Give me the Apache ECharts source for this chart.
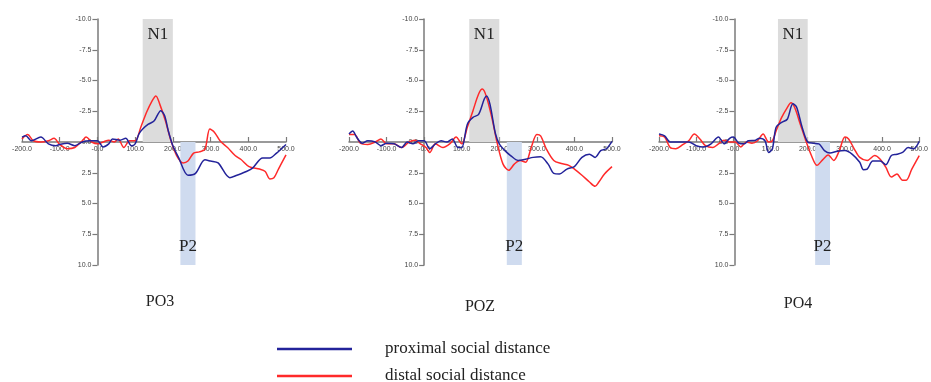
<!DOCTYPE html>
<html>
<head>
<meta charset="utf-8">
<script src="https://cdn.jsdelivr.net/npm/echarts@6/dist/echarts.min.js"></script>
<style>
  html, body { margin: 0; padding: 0; background: #fff; }
  #main { width: 931px; height: 382px; }
</style>
</head>
<body>
<div id="main"></div>
<script>
(function(){
var panelNames = ['PO3', 'POZ', 'PO4'];
var seriesNames = ['proximal social distance', 'distal social distance'];
var xTicks = [-200, -100, 0, 100, 200, 300, 400, 500];
var yTicks = [-10, -7.5, -5, -2.5, 0, 2.5, 5, 7.5, 10];
var n1Window = [120, 200];
var p2Window = [220, 260];

// PO3
var po3ProxT = [-200,-190,-175,-150,-130,-110,-100,-80,-60,-40,-20,0,15,30,40,60,75,90,100,110,120,135,150,168,178,188,200,215,240,260,285,300,320,351,370,395,412,438,457,475,500];
var po3ProxV = [-0.4,-0.5,-0.1,-0.4,0.15,0.3,0.2,0.1,0.3,0,-0.1,-0.1,0.4,0.15,-0.25,-0.15,-0.3,0.3,0.15,-0.65,-1.05,-1.45,-1.7,-2.55,-2.15,-0.9,0.3,1.25,2.7,2.55,1.45,1.55,1.7,2.9,2.7,2.4,2.1,1.3,1.3,0.9,0.2];
var po3DistT = [-200,-185,-170,-150,-130,-115,-100,-80,-60,-40,-30,-15,0,15,30,45,55,70,85,100,115,130,145,155,165,180,195,210,227,240,255,270,285,298,310,325,345,365,380,402,430,445,457,468,480,500];
var po3DistV = [-0.25,-0.6,-0.1,0,-0.1,-0.3,0.2,0.55,0.45,-0.1,-0.4,0,0.15,0,-0.15,0,-0.25,0.45,-0.1,-0.1,-1.2,-2.4,-3.35,-3.75,-3.1,-1.75,-0.1,1.1,1.7,1.55,0.9,0.8,0.6,-1.05,-0.8,-0.1,0.45,1.1,1.4,2.0,2.2,2.4,3.0,2.9,2.2,1.05];

// POZ
var pozProxT = [-200,-190,-180,-165,-150,-130,-115,-100,-80,-60,-45,-30,-15,0,15,30,45,60,75,90,100,115,130,145,160,166,175,190,200,215,230,250,270,290,310,330,345,360,380,400,420,440,455,470,485,500];
var pozProxV = [-0.65,-0.9,-0.4,0.1,-0.1,0,0.3,0.1,0.15,0.45,0,0.15,-0.1,-0.1,0.55,0.15,-0.1,0,-0.25,0.45,0.45,-1.45,-2.0,-2.25,-3.5,-3.75,-3.1,-0.65,0.15,0.7,1.1,1.5,1.4,1.25,1.2,1.8,2.55,2.6,2.2,2.0,1.25,1.0,1.25,0.7,0.55,-0.05];
var pozDistT = [-200,-185,-170,-150,-130,-115,-100,-80,-60,-40,-25,-10,5,15,30,50,70,85,100,115,130,145,155,165,180,195,210,225,240,255,270,285,300,310,325,345,365,385,400,420,440,455,465,480,500];
var pozDistV = [-0.6,-0.6,0.1,0.2,0,-0.25,0.15,0.15,0.45,0,-0.15,0.15,0.45,0.85,0.15,0.45,0.1,-0.4,0.15,-1.2,-2.55,-3.9,-4.3,-3.75,-2.0,0.15,1.8,2.3,1.8,1.5,1.65,0.45,-0.6,-0.5,0.55,1.5,1.75,1.9,2.2,2.7,3.25,3.6,3.25,2.6,2.0];

// PO4
var po4ProxT = [-200,-185,-170,-150,-120,-100,-80,-60,-40,-25,-10,0,15,30,40,60,70,85,95,105,115,130,145,160,170,185,200,215,230,245,260,280,300,320,340,350,360,375,395,410,425,440,455,470,485,500];
var po4ProxV = [-0.65,-0.5,0,0,0,0.3,0.4,0.15,-0.4,0.15,-0.3,-0.4,0.1,0.15,-0.1,-0.15,-0.3,-0.1,0.85,0.55,-1.2,-1.6,-1.85,-3.1,-2.85,-1.2,0,0.1,0.15,0.7,0.9,0.75,0.7,1.0,1.65,2.25,2.2,1.55,1.55,1.85,1.1,1.0,0.85,0.45,0.55,-0.05];
var po4DistT = [-200,-185,-170,-155,-135,-120,-105,-90,-75,-55,-40,-25,-10,5,20,35,50,65,80,95,105,115,130,145,155,165,180,195,210,225,240,255,270,285,300,310,325,340,360,380,395,410,425,440,455,465,480,500];
var po4DistV = [-0.5,-0.4,0.45,0.55,0.2,-0.1,-0.65,-0.25,0.3,0.45,0.15,-0.15,0,0,0.4,0,0.1,-0.1,-0.65,0,-0.1,-0.9,-2.0,-2.8,-3.2,-2.8,-1.45,-0.1,1.1,1.9,1.45,1.05,1.5,0.7,-0.4,-0.25,0.55,1.25,1.5,1.1,1.4,2.05,2.85,2.6,3.1,3.1,2.2,1.1];

var panelData = [
  [[po3ProxT, po3ProxV], [po3DistT, po3DistV]],
  [[pozProxT, pozProxV], [pozDistT, pozDistV]],
  [[po4ProxT, po4ProxV], [po4DistT, po4DistV]]
];
var lineColors = ['#23239a', '#ff2a2a'];

var grids = [
  { left: 22, top: 19, width: 264, height: 246 },
  { left: 349, top: 19, width: 263, height: 246 },
  { left: 659, top: 19, width: 264, height: 246 }
];
var titleX = [160, 480, 798];
var titleY = [302, 307, 304];

var axisColor = '#7a7a7a';
var serif = '"Liberation Serif", "Times New Roman", serif';

function zip(t, v) {
  return t.map(function (x, i) { return [x, v[i]]; });
}

var xAxes = [], yAxes = [], series = [], graphics = [];
grids.forEach(function (g, i) {
  var xMin = xTicks[0], xMax = xTicks[xTicks.length - 1];
  // axes cross at the origin: shift them inward with offset
  var yOffset = -g.width * (0 - xMin) / (xMax - xMin);
  var xOffset = -g.height / 2;
  xAxes.push({
    type: 'value', gridIndex: i, position: 'bottom', offset: xOffset,
    min: xMin, max: xMax, interval: 100,
    axisLine: { onZero: false, lineStyle: { color: axisColor, width: 1.5 } },
    axisTick: { inside: true, length: 5, lineStyle: { color: axisColor, width: 1.2 } },
    axisLabel: {
      fontSize: 7, color: '#444', margin: 4, fontFamily: 'Liberation Sans',
      formatter: function (v) { return v === 0 ? '-0.0' : v.toFixed(1); }
    },
    splitLine: { show: false }
  });
  yAxes.push({
    type: 'value', gridIndex: i, inverse: true, position: 'left', offset: yOffset,
    min: yTicks[0], max: yTicks[yTicks.length - 1], interval: 2.5,
    axisLine: { onZero: false, lineStyle: { color: axisColor, width: 1.5 } },
    axisTick: { length: 5, lineStyle: { color: axisColor, width: 1.2 } },
    axisLabel: {
      fontSize: 7, color: '#444', margin: 6, fontFamily: 'Liberation Sans',
      formatter: function (v) { return v.toFixed(1); }
    },
    splitLine: { show: false }
  });
  // shaded component windows
  series.push({
    type: 'line', xAxisIndex: i, yAxisIndex: i, data: [], z: 1, silent: true,
    markArea: {
      silent: true,
      label: { fontFamily: serif, fontSize: 17, color: '#222' },
      data: [
        [{ coord: [n1Window[0], -10], name: 'N1', itemStyle: { color: '#dcdcdc' },
           label: { position: 'insideTop', distance: 7 } },
         { coord: [n1Window[1], 0] }],
        [{ coord: [p2Window[0], 0], name: 'P2', itemStyle: { color: '#cfdbef' },
           label: { position: 'insideBottom', distance: 10 } },
         { coord: [p2Window[1], 10] }]
      ]
    }
  });
  panelData[i].forEach(function (d, k) {
    series.push({
      name: seriesNames[k], type: 'line', xAxisIndex: i, yAxisIndex: i,
      data: zip(d[0], d[1]), smooth: 0.3, showSymbol: false, z: 3 + (1 - k),
      lineStyle: { color: lineColors[k], width: 1.5 },
      itemStyle: { color: lineColors[k] }
    });
  });
  graphics.push({
    type: 'text', x: titleX[i], y: titleY[i],
    style: { text: panelNames[i], font: '16px ' + serif, fill: '#222',
             textAlign: 'center', textVerticalAlign: 'middle' }
  });
});

function legendFor(name, top) {
  return {
    data: [name], left: 277, top: top,
    icon: 'rect', itemWidth: 75, itemHeight: 2.5,
    selectedMode: false, padding: 0,
    textStyle: { fontFamily: serif, fontSize: 17, color: '#222', lineHeight: 18, padding: [0, 0, 0, 28] }
  };
}

var myChart = echarts.init(document.getElementById('main'));
var option = {
  backgroundColor: '#fff',
  animation: false,
  grid: grids,
  xAxis: xAxes,
  yAxis: yAxes,
  legend: [legendFor(seriesNames[0], 340), legendFor(seriesNames[1], 367)],
  graphic: graphics,
  series: series
};
myChart.setOption(option);
window.addEventListener('resize', function () { myChart.resize(); });
})();
</script>
</body>
</html>
